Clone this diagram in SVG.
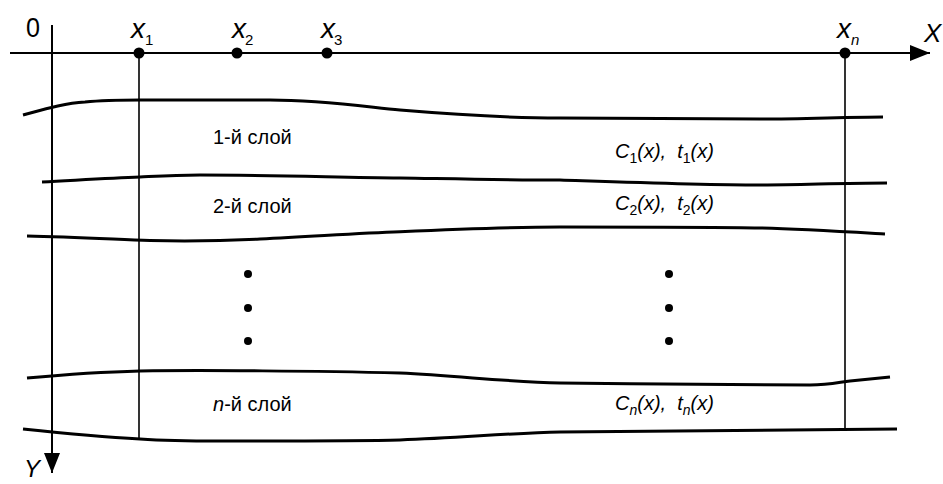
<svg xmlns="http://www.w3.org/2000/svg" width="943" height="484" viewBox="0 0 943 484">
<style>
text{font-family:"Liberation Sans",Arial,sans-serif;fill:#000}
.ax{font-size:28px;font-style:italic}
.sub{font-size:15px;font-style:normal}
.subi{font-size:15px;font-style:italic}
.lbl{font-size:20px}
.i{font-style:italic}
.s{font-size:14px}
.axis{stroke:#000;stroke-width:2;fill:none}
.vl{stroke:#000;stroke-width:1.6;fill:none}
.bd{stroke:#000;stroke-width:3;fill:none;stroke-linecap:butt}
</style>
<defs>
<marker id="ah" viewBox="0 0 20 16" refX="20" refY="8" markerWidth="20" markerHeight="16" markerUnits="userSpaceOnUse" orient="auto">
<path d="M0,0 L20,8 L0,16 Z" fill="#000"/>
</marker>
</defs>
<rect width="943" height="484" fill="#fff"/>
<g id="boundaries">
<path class="bd" d="M23,115 C45,109 65,103 85,102 C105,100 120,100 140,100 L270,100 C320,100 360,106 400,110 C460,115 510,118 560,118 C640,119 700,119 760,119 C800,119 850,117 883,117"/>
<path class="bd" d="M42,182 C80,180 110,178 140,177 C160,176 175,175 200,175 C260,175 330,177 400,178 C460,179 500,180 560,180 C620,182 700,185 760,185 C800,185 840,183 887,183"/>
<path class="bd" d="M27,236 C70,237 110,239 150,240.5 C190,241.5 220,241 260,239 C320,236 360,233 400,231.7 C460,229 510,227 560,227 C640,227 720,227 760,228 C800,229 850,232 885,234"/>
<path class="bd" d="M27,378 C60,375 100,372 140,371 C200,370 320,371 400,373 C460,376 510,382 560,383 C650,384 760,385 810,385 C830,385 840,382 850,381 L890,377"/>
<path class="bd" d="M23,429 C60,433 100,437 140,439 C170,441 190,441 220,441 C300,441 360,441 400,440 C460,438 510,433 560,432 C680,430 800,429 897,429"/>
</g>
<g id="connectors">
<line class="axis" x1="10" y1="53" x2="930" y2="53" marker-end="url(#ah)"/>
<line class="axis" x1="52" y1="25" x2="52" y2="473" marker-end="url(#ah)"/>
<line class="vl" x1="139" y1="53" x2="139" y2="440"/>
<line class="vl" x1="845" y1="53" x2="845" y2="429"/>
</g>
<g id="axis-labels">
<text x="26" y="37" font-size="28" textLength="14" lengthAdjust="spacingAndGlyphs">0</text>
<text x="924" y="42" font-size="26" font-style="italic">X</text>
<text x="24" y="477" font-size="24" font-style="italic">Y</text>
</g>
<g id="x1"><circle cx="139" cy="53" r="5.5"/><text class="ax" x="131" y="38">x</text><text class="sub" x="145" y="45">1</text></g>
<g id="x2"><circle cx="237" cy="53" r="5.5"/><text class="ax" x="232" y="38">x</text><text class="sub" x="245" y="45">2</text></g>
<g id="x3"><circle cx="327" cy="53" r="5.5"/><text class="ax" x="321" y="38">x</text><text class="sub" x="334" y="45">3</text></g>
<g id="xn"><circle cx="845" cy="53" r="5.5"/><text class="ax" x="837" y="38">x</text><text class="subi" x="851" y="45">n</text></g>
<g id="layer1">
<text class="lbl" x="213" y="144">1-й слой</text>
<text class="lbl" x="615" y="158"><tspan class="i">C</tspan><tspan class="s" dy="5">1</tspan><tspan class="i" dy="-5">(x),&#160;&#160;t</tspan><tspan class="s" dy="5">1</tspan><tspan class="i" dy="-5">(x)</tspan></text>
</g>
<g id="layer2">
<text class="lbl" x="213" y="213">2-й слой</text>
<text class="lbl" x="615" y="210"><tspan class="i">C</tspan><tspan class="s" dy="5">2</tspan><tspan class="i" dy="-5">(x),&#160;&#160;t</tspan><tspan class="s" dy="5">2</tspan><tspan class="i" dy="-5">(x)</tspan></text>
</g>
<g id="ellipsis">
<circle cx="248" cy="274" r="4"/><circle cx="248" cy="308" r="4"/><circle cx="248" cy="341" r="4"/>
<circle cx="669" cy="274" r="4"/><circle cx="669" cy="308" r="4"/><circle cx="669" cy="341" r="4"/>
</g>
<g id="layern">
<text class="lbl" x="213" y="411"><tspan class="i">n</tspan>-й слой</text>
<text class="lbl" x="615" y="410"><tspan class="i">C</tspan><tspan class="s i" dy="5">n</tspan><tspan class="i" dy="-5">(x),&#160;&#160;t</tspan><tspan class="s i" dy="5">n</tspan><tspan class="i" dy="-5">(x)</tspan></text>
</g>
</svg>
